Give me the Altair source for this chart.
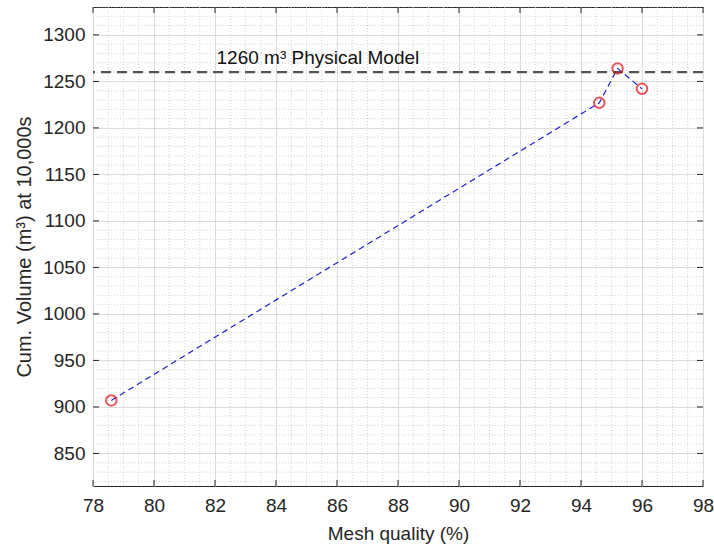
import altair as alt
import pandas as pd
import numpy as np

# data
mesh_quality = [78.6, 94.6, 95.2, 96.0]
cum_volume = [907, 1227, 1264, 1242]
physical_model = 1260
label_text = "1260 m³ Physical Model"
label_x = 82.05

x_major = [78, 80, 82, 84, 86, 88, 90, 92, 94, 96, 98]
y_major = [850, 900, 950, 1000, 1050, 1100, 1150, 1200, 1250, 1300]
x_minor = [v for v in np.arange(78, 98.01, 0.5).round(2).tolist() if v not in x_major]
y_minor = [v for v in range(820, 1331, 10) if v not in y_major]

X_DOM = [78, 98]
Y_DOM = [815, 1330]
W, H = 610, 479
FONT = "Liberation Sans"

xs = alt.Scale(domain=X_DOM, nice=False, zero=False)
ys = alt.Scale(domain=Y_DOM, nice=False, zero=False)

df = pd.DataFrame({"q": mesh_quality, "v": cum_volume})

minor_x = alt.Chart(pd.DataFrame({"x": x_minor})).mark_rule(
    color="#c8c8c8", strokeDash=[1, 2], strokeWidth=0.8
).encode(x=alt.X("x:Q", scale=xs))
minor_y = alt.Chart(pd.DataFrame({"y": y_minor})).mark_rule(
    color="#c8c8c8", strokeDash=[1, 2], strokeWidth=0.8
).encode(y=alt.Y("y:Q", scale=ys))

base = alt.Chart(df)
line = base.mark_line(color="#1f1fd0", strokeDash=[6, 4], strokeWidth=1.2).encode(
    x=alt.X("q:Q", scale=xs,
            axis=alt.Axis(values=x_major, title="Mesh quality (%)", grid=True, format="d",
                          gridColor="#dcdcdc", gridWidth=1, tickSize=0, labelPadding=10,
                          labelFlush=False, titlePadding=9, titleFontSize=19, domain=False)),
    y=alt.Y("v:Q", scale=ys,
            axis=alt.Axis(values=y_major, title="Cum. Volume (m³) at 10,000s", grid=True, format="d",
                          gridColor="#dcdcdc", gridWidth=1, tickSize=0, labelPadding=8,
                          labelFlush=False, titlePadding=8, titleFontSize=20, domain=False)),
)
points = base.mark_point(shape="circle", filled=False, color="#e0101a", size=110,
                         strokeWidth=2).encode(x=alt.X("q:Q", scale=xs), y=alt.Y("v:Q", scale=ys))

ref = alt.Chart(pd.DataFrame({"y": [physical_model]})).mark_rule(
    color="#555555", strokeDash=[10, 6], strokeWidth=2.2
).encode(y=alt.Y("y:Q", scale=ys))

txt = alt.Chart(pd.DataFrame({"x": [label_x], "y": [physical_model], "t": [label_text]})).mark_text(
    align="left", baseline="bottom", dy=-4, fontSize=19, font=FONT, color="#111111"
).encode(x=alt.X("x:Q", scale=xs), y=alt.Y("y:Q", scale=ys), text="t:N")

# inward ticks on all four sides
tl = alt.Chart(pd.DataFrame({"y": y_major})).mark_rule(color="#262626", strokeWidth=1).encode(
    y=alt.Y("y:Q", scale=ys), x=alt.value(0), x2=alt.value(6))
tr = alt.Chart(pd.DataFrame({"y": y_major})).mark_rule(color="#262626", strokeWidth=1).encode(
    y=alt.Y("y:Q", scale=ys), x=alt.value(W - 6), x2=alt.value(W))
tb = alt.Chart(pd.DataFrame({"x": x_major})).mark_rule(color="#262626", strokeWidth=1).encode(
    x=alt.X("x:Q", scale=xs), y=alt.value(H - 6), y2=alt.value(H))
tt = alt.Chart(pd.DataFrame({"x": x_major})).mark_rule(color="#262626", strokeWidth=1).encode(
    x=alt.X("x:Q", scale=xs), y=alt.value(0), y2=alt.value(6))

chart = alt.layer(minor_x, minor_y, line, ref, points, txt, tl, tr, tb, tt).properties(
    width=W, height=H,
    autosize=alt.AutoSizeParams(type="none"),
    padding={"left": 93, "top": 7, "right": 11, "bottom": 66},
    background="white",
).configure_view(
    stroke="#262626", strokeWidth=1
).configure_axis(
    labelFont=FONT, titleFont=FONT, labelFontSize=19, titleFontSize=19,
    labelColor="#262626", titleColor="#262626", titleFontWeight="normal"
)

chart.save("out.html", embed_options={"renderer": "svg", "actions": False})
